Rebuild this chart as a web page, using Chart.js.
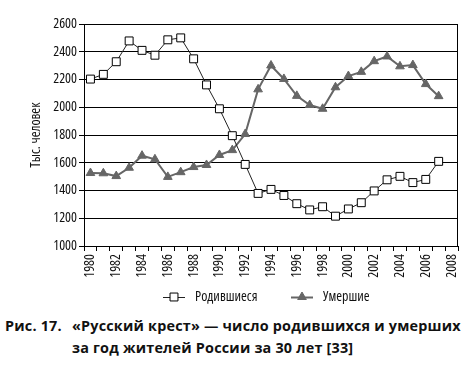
<!DOCTYPE html>
<html lang="ru">
<head>
    <meta charset="UTF-8">
    <title>Русский крест</title>
    <script src="https://cdn.jsdelivr.net/npm/chart.js"></script>
    <style>
        html, body { margin: 0; padding: 0; background: #fff; }
        #wrap { position: relative; width: 476px; height: 371px; overflow: hidden; }
        #chart { position: absolute; left: 0; top: 0; }
        .cap { position: absolute; font-family: "Open Sans", sans-serif; font-weight: bold; font-size: 14.4px; line-height: 22px; letter-spacing: 0.2px; color: #111; white-space: nowrap; }
    </style>
</head>
<body>
    <div id="wrap">
        <canvas id="chart" width="476" height="312"></canvas>
        <div class="cap" style="left:5px; top:315px;">Рис. 17.</div>
        <div class="cap" style="left:72px; top:315px;">«Русский крест» — число родившихся и умерших<br>за год жителей России за 30 лет [33]</div>
    </div>
    <script>
        // годы (последняя категория 2008 без данных)
        const years = ['1980', '1981', '1982', '1983', '1984', '1985', '1986', '1987', '1988', '1989',
            '1990', '1991', '1992', '1993', '1994', '1995', '1996', '1997', '1998', '1999',
            '2000', '2001', '2002', '2003', '2004', '2005', '2006', '2007', '2008'];
        const births = [2203, 2237, 2328, 2478, 2410, 2375, 2486, 2500, 2349, 2161,
            1989, 1795, 1588, 1379, 1408, 1364, 1305, 1260, 1283, 1215,
            1267, 1312, 1397, 1477, 1502, 1457, 1480, 1610, null];
        const deaths = [1526, 1524, 1504, 1564, 1651, 1625, 1498, 1532, 1569, 1584,
            1656, 1691, 1807, 2129, 2301, 2204, 2082, 2016, 1989, 2144,
            2225, 2255, 2332, 2366, 2295, 2304, 2167, 2080, null];
        const yMin = 1000, yMax = 2600, yStep = 200;

        // узкий шрифт: Open Sans с font-stretch condensed (через поле weight)
        const narrowFont = (size) => ({ family: '"Open Sans", sans-serif', size: size, weight: 'condensed' });

        // рамка вокруг области построения
        const frame = {
            id: 'frame',
            afterDraw(chart) {
                const a = chart.chartArea, c = chart.ctx;
                c.save();
                c.strokeStyle = '#000';
                c.lineWidth = 1;
                c.strokeRect(Math.round(a.left) + 0.5, Math.round(a.top) + 0.5,
                    Math.round(a.right - a.left) - 1, Math.round(a.bottom - a.top));
                c.restore();
            }
        };

        // легенда: линия с маркером + подпись
        const lineLegend = {
            id: 'lineLegend',
            afterDraw(chart) {
                const c = chart.ctx;
                const spots = [{ x: 163, y: 297 }, { x: 291, y: 297 }];
                c.save();
                c.font = 'condensed 14px "Open Sans", sans-serif';
                c.textBaseline = 'middle';
                chart.data.datasets.forEach((ds, i) => {
                    const s = spots[i];
                    c.strokeStyle = ds.borderColor;
                    c.lineWidth = ds.borderWidth;
                    c.beginPath();
                    c.moveTo(s.x, s.y + 0.5);
                    c.lineTo(s.x + 22, s.y + 0.5);
                    c.stroke();
                    c.fillStyle = ds.pointBackgroundColor;
                    c.strokeStyle = ds.pointBorderColor;
                    c.lineWidth = ds.pointBorderWidth;
                    Chart.helpers.drawPoint(c, {
                        pointStyle: ds.pointStyle,
                        radius: ds.pointRadius,
                        borderWidth: ds.pointBorderWidth
                    }, s.x + 11, s.y);
                    c.fillStyle = '#111';
                    c.fillText(ds.label, s.x + 32, s.y);
                });
                c.restore();
            }
        };

        new Chart(document.getElementById('chart'), {
            type: 'line',
            data: {
                labels: years,
                datasets: [
                    {
                        label: 'Родившиеся',
                        data: births,
                        borderColor: '#222',
                        borderWidth: 1,
                        pointStyle: 'rect',
                        pointRadius: 5.6,
                        pointBackgroundColor: '#fff',
                        pointBorderColor: '#000',
                        pointBorderWidth: 1,
                        tension: 0,
                        order: 0
                    },
                    {
                        label: 'Умершие',
                        data: deaths,
                        borderColor: '#666',
                        borderWidth: 2,
                        pointStyle: 'triangle',
                        pointRadius: 5,
                        pointBackgroundColor: '#666',
                        pointBorderColor: '#666',
                        pointBorderWidth: 1,
                        tension: 0,
                        order: 1
                    }
                ]
            },
            options: {
                responsive: false,
                animation: false,
                devicePixelRatio: 1,
                layout: { padding: { left: 0, right: 18, top: 24, bottom: 26 } },
                plugins: {
                    legend: { display: false },
                    tooltip: { enabled: false }
                },
                scales: {
                    x: {
                        type: 'category',
                        offset: true,
                        grid: { offset: true, drawOnChartArea: false, drawTicks: true, tickLength: 5, color: '#000' },
                        border: { display: true, color: '#000' },
                        ticks: {
                            autoSkip: false,
                            minRotation: 90,
                            maxRotation: 90,
                            padding: 3,
                            color: '#111',
                            font: narrowFont(14),
                            callback: function (val, i) { return i % 2 === 0 ? this.getLabelForValue(val) : ''; }
                        },
                        afterFit: (s) => { s.height = 40; }
                    },
                    y: {
                        min: yMin,
                        max: yMax,
                        grid: { color: '#000', lineWidth: 1, drawTicks: true, tickLength: 5 },
                        border: { display: true, color: '#000' },
                        ticks: {
                            stepSize: yStep,
                            padding: 2,
                            color: '#111',
                            font: narrowFont(14),
                            callback: (v) => String(v)
                        },
                        title: {
                            display: true,
                            text: 'Тыс. человек',
                            color: '#111',
                            font: narrowFont(14),
                            padding: { top: 28, bottom: 0 }
                        },
                        afterFit: (s) => { s.width = 84; }
                    }
                }
            },
            plugins: [frame, lineLegend]
        });
    </script>
</body>
</html>
